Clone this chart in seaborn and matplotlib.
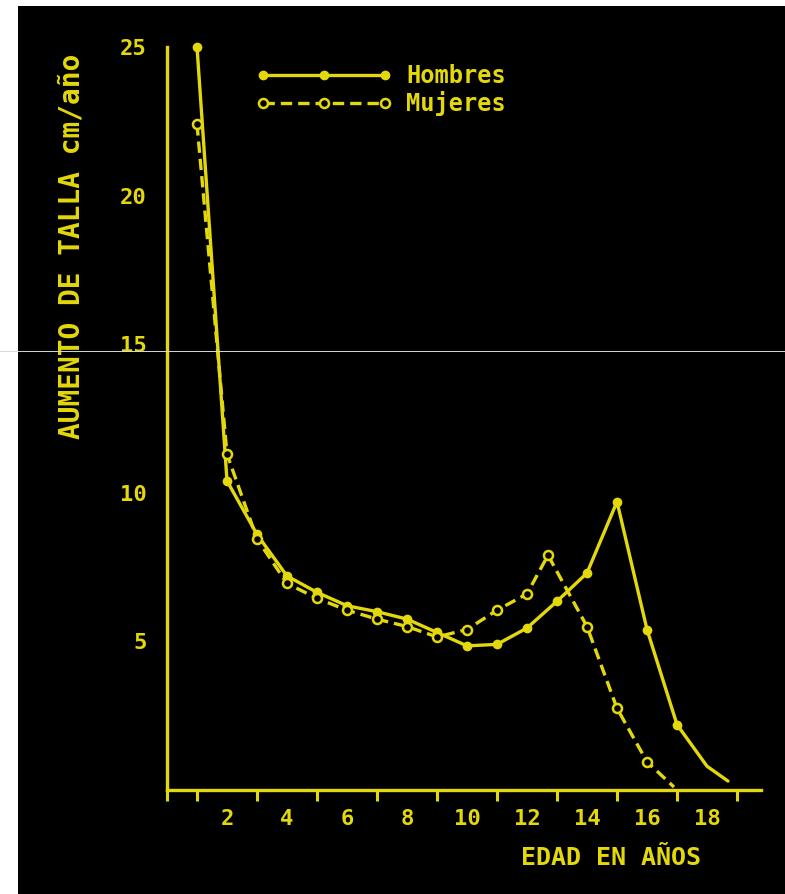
import matplotlib
matplotlib.use("Agg")
import matplotlib.pyplot as plt
import seaborn as sns
from matplotlib.lines import Line2D
from matplotlib.patches import Rectangle
from matplotlib.ticker import MultipleLocator

# growth velocity (cm/year)
edad_hombres = [1, 2, 3, 4, 5, 6, 7, 8, 9, 10, 11, 12, 13, 14, 15, 16, 17, 18, 18.7]
talla_hombres = [25, 10.4, 8.6, 7.2, 6.65, 6.2, 6.0, 5.75, 5.3, 4.85, 4.9, 5.45, 6.35, 7.3, 9.7, 5.4, 2.2, 0.8, 0.3]
n_marcas_hombres = 17  # last points of the curve have no dot

edad_mujeres = [1, 2, 3, 4, 5, 6, 7, 8, 9, 10, 11, 12, 12.7, 14, 15, 16, 16.9]
talla_mujeres = [22.4, 11.3, 8.45, 6.95, 6.45, 6.05, 5.75, 5.5, 5.15, 5.4, 6.05, 6.6, 7.9, 5.5, 2.75, 0.95, 0.1]
n_marcas_mujeres = 16

y_ticks = [5, 10, 15, 20, 25]
x_ticks = [2, 4, 6, 8, 10, 12, 14, 16, 18]

YELLOW = '#e3d80c'
W, H = 785, 894

sns.set_theme(style='white')
plt.rcParams['font.family'] = ['DejaVu Sans Mono', 'DejaVu Sans']
plt.rcParams['font.weight'] = 'bold'

fig = plt.figure(figsize=(W / 100, H / 100), dpi=100, facecolor='white')
# scanned page: black area with a white strip on top and left
fig.patches.append(Rectangle((18 / W, 0), 1 - 18 / W, 1 - 6 / H, transform=fig.transFigure,
                             facecolor='black', edgecolor='none', zorder=-10))

ax = fig.add_axes([167 / W, 1 - 790 / H, (761 - 167) / W, (790 - 47) / H])
ax.set_facecolor('black')

sns.lineplot(x=edad_hombres, y=talla_hombres, ax=ax, color=YELLOW, lw=2.4,
             marker='o', markersize=7, markeredgewidth=0,
             markevery=list(range(n_marcas_hombres)), clip_on=False, label='Hombres')
sns.lineplot(x=edad_mujeres, y=talla_mujeres, ax=ax, color=YELLOW, lw=2.4,
             linestyle=(0, (3.4, 1.8)), marker='o', markersize=6.5,
             markerfacecolor='black', markeredgecolor=YELLOW, markeredgewidth=1.8,
             markevery=list(range(n_marcas_mujeres)), clip_on=False, label='Mujeres')

ax.set_xlim(0, 19.8)
ax.set_ylim(0, 25)
ax.set_yticks(y_ticks)
ax.set_xticks(x_ticks)
ax.xaxis.set_minor_locator(MultipleLocator(1))

for side in ['top', 'right']:
    ax.spines[side].set_visible(False)
for side in ['left', 'bottom']:
    ax.spines[side].set_color(YELLOW)
    ax.spines[side].set_linewidth(2.4)

ax.tick_params(axis='both', which='both', colors=YELLOW, width=2.2, direction='out')
ax.tick_params(axis='y', length=8.5, pad=6, labelsize=16)
ax.tick_params(axis='x', which='both', length=8, pad=6, labelsize=16)
ax.tick_params(axis='x', which='minor', bottom=True)

handles, labels = ax.get_legend_handles_labels()
ax.legend(handles, labels, loc='upper left', bbox_to_anchor=(0.15, 0.977),
          frameon=False, numpoints=3, handlelength=5.75, handletextpad=0.6,
          labelspacing=0.12, borderpad=0, borderaxespad=0, labelcolor=YELLOW,
          prop={'family': 'DejaVu Sans Mono', 'weight': 'bold', 'size': 17})

ax.set_xlabel('EDAD EN AÑOS', color=YELLOW, fontsize=18, fontweight='bold')
ax.xaxis.set_label_coords(0.7475, -0.075)
ax.set_ylabel('AUMENTO DE TALLA cm/año', color=YELLOW, fontsize=20, fontweight='bold')
ax.yaxis.set_label_coords(-0.137, 0.732)

# thin scan line crossing the page
fig.add_artist(Line2D([0, 1], [1 - 351 / H, 1 - 351 / H], transform=fig.transFigure,
                      color='#d8d8d8', lw=0.7))

fig.savefig('out.png', dpi=100, facecolor=fig.get_facecolor())
